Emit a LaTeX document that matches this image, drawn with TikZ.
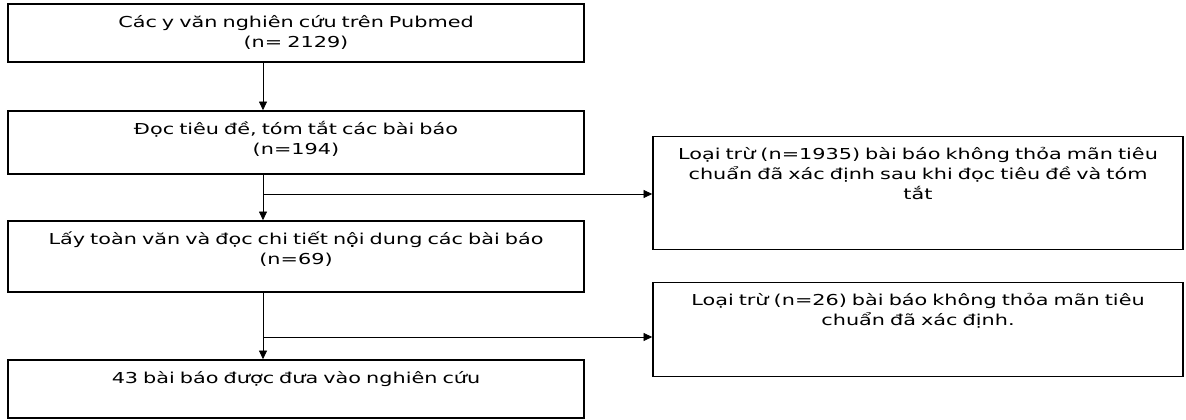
\documentclass[tikz,border=0pt]{standalone}
\usepackage{fontspec}
\setmainfont{DejaVu Sans}[FakeStretch=1.38]
\usetikzlibrary{arrows.meta}

\tikzset{
  box/.style={draw, line width=1.2pt, inner sep=0pt, align=center,
    font=\fontsize{11.3pt}{15pt}\selectfont, text height=17.5pt, text depth=#1},
  leftbox/.style={box=#1, minimum width=432pt, text width=430pt},
  rightbox/.style={box=#1, minimum width=397.5pt, text width=396pt},
  link/.style={line width=0.6pt, -{Triangle[width=6pt,length=6.5pt]}},
}

\begin{document}
\begin{tikzpicture}[x=0.75pt, y=-0.75pt]
	\useasboundingbox (0,0) rectangle (1186,420);

	% Main column
	\node [leftbox=26pt] (pubmed) at (296,33) {Các y văn nghiên cứu trên Pubmed\\(n= 2129)};
	\node [leftbox=29.75pt] (abstracts) at (296,142.5) {Đọc tiêu đề, tóm tắt các bài báo\\(n=194)};
	\node [leftbox=35.75pt] (fulltext) at (296,256.5) {Lấy toàn văn và đọc chi tiết nội dung các bài báo\\(n=69)};
	\node [leftbox=26pt] (included) at (296,389) {43 bài báo được đưa vào nghiên cứu};

	% Exclusions
	\node [rightbox=67.5pt] (excl1) at (918,193) {Loại trừ (n=1935) bài báo không thỏa mãn tiêu\\chuẩn đã xác định sau khi đọc tiêu đề và tóm\\tắt};
	\node [rightbox=53.25pt] (excl2) at (918,329.5) {Loại trừ (n=26) bài báo không thỏa mãn tiêu\\chuẩn đã xác định.};

	% Arrows down
	\coordinate (spine) at (263,0);
	\draw [link] (pubmed.south -| spine) -- (abstracts.north -| spine);
	\draw [link] (abstracts.south -| spine) -- (fulltext.north -| spine);
	\draw [link] (fulltext.south -| spine) -- (included.north -| spine);

	% Arrows to the side
	\coordinate (fork1) at (263,194);
	\coordinate (fork2) at (263,337);
	\draw [link] (fork1) -- (fork1 -| excl1.west);
	\draw [link] (fork2) -- (fork2 -| excl2.west);

\end{tikzpicture}
\end{document}
